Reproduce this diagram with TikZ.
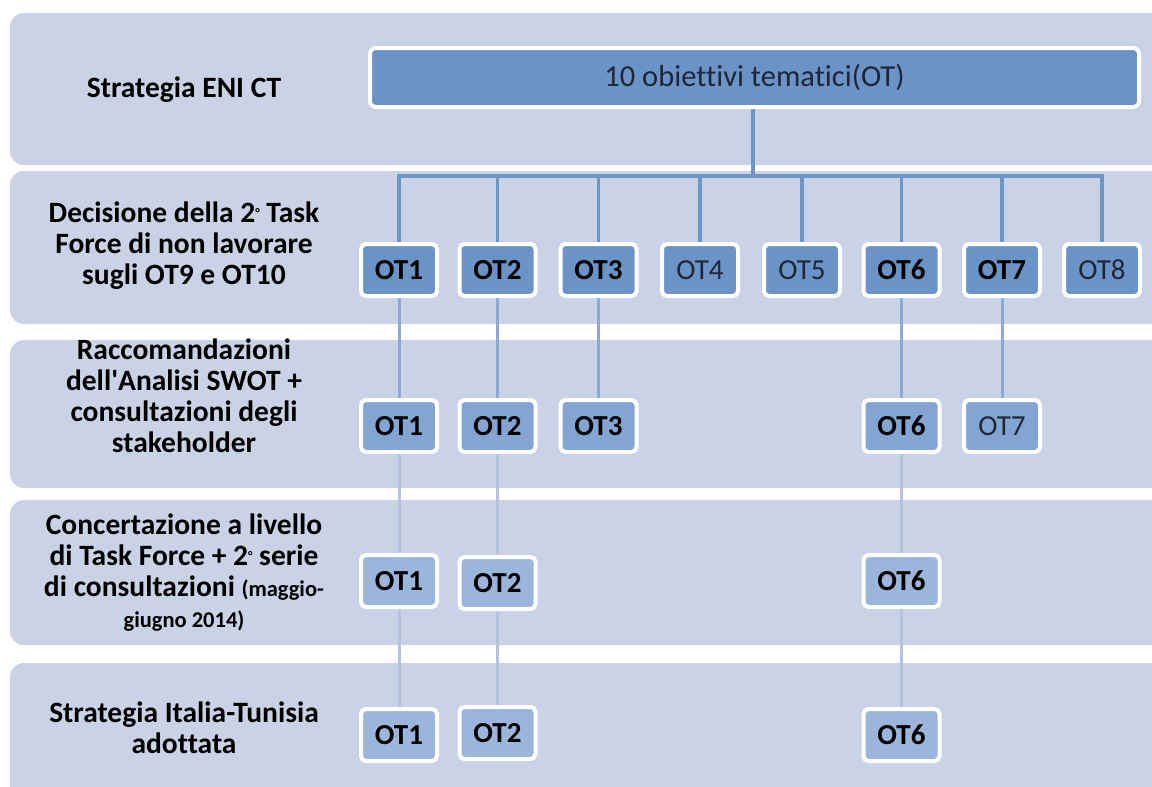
\documentclass[tikz,border=0pt]{standalone}
\usepackage{fontspec}
\setmainfont{Carlito}[Ligatures=NoCommon]
\pgfdeclarelayer{background}
\pgfsetlayers{background,main}
\definecolor{bandc}{HTML}{C9D3E5}
\definecolor{boxA}{HTML}{6B93C6}
\definecolor{boxB}{HTML}{84A4D2}
\definecolor{boxC}{HTML}{9CB5DB}
\definecolor{lineA}{HTML}{6E95C8}
\definecolor{lineB}{HTML}{8DA8D2}
\definecolor{lineC}{HTML}{B4C3DE}
\definecolor{regtext}{HTML}{1E2638}
\newcommand{\degsym}{{\fontsize{13}{13}\selectfont\raisebox{5pt}{°}}}
\begin{document}
\begin{tikzpicture}[x=1pt,y=-1pt,
  band/.style={fill=bandc, rounded corners=14pt},
  otbox/.style={draw=white, line width=4pt, rounded corners=5pt,
    minimum width=76pt, minimum height=52pt, inner sep=0pt},
  bt/.style={font=\fontsize{29}{29}\selectfont\bfseries, text=black},
  rt/.style={font=\fontsize{29}{29}\selectfont, text=regtext},
  otA/.style={otbox, fill=boxA},
  otB/.style={otbox, fill=boxB},
  otC/.style={otbox, fill=boxC},
  lab/.style={font=\fontsize{29.5}{31}\selectfont\bfseries, align=center, text=black},
  connA/.style={draw=lineA, line width=3.6pt},
  connB/.style={draw=lineB, line width=3pt},
  connC/.style={draw=lineC, line width=3pt}]
\useasboundingbox (0,0) rectangle (1152,787);
\clip (0,0) rectangle (1152,787);

% labels
\node[lab] (l1) at (184,90) {Strategia ENI CT};
\node[lab] (l2) at (184,246) {Decisione della 2\degsym{} Task\\Force di non lavorare\\sugli OT9 e OT10};
\node[lab] (l3) at (184,396) {Raccomandazioni\\dell\textquotesingle Analisi SWOT +\\consultazioni degli\\stakeholder};
\node[lab] (l4) at (184,573) {Concertazione a livello\\di Task Force + 2\degsym{} serie\\di consultazioni {\fontsize{22.5}{31}\selectfont(maggio-}\\{\fontsize{22.5}{31}\selectfont giugno 2014)}};
\node[lab] (l5) at (184,728) {Strategia Italia-Tunisia\\adottata};

% top box
\node[draw=white, line width=4pt, rounded corners=6pt, fill=boxA,
  minimum width=769pt, minimum height=59pt, inner sep=0pt,
  font=\fontsize{30.5}{30.5}\selectfont, text=regtext] (top) at (754.5,77.5) {10 obiettivi tematici(OT)};

% row 2
\node[otA,bt] (r2a) at (399,270) {OT1};
\node[otA,bt] (r2b) at (497.5,270) {OT2};
\node[otA,bt] (r2c) at (598.5,270) {OT3};
\node[otA,rt] (r2d) at (700,270) {OT4};
\node[otA,rt] (r2e) at (802,270) {OT5};
\node[otA,bt] (r2f) at (901.5,270) {OT6};
\node[otA,bt] (r2g) at (1002,270) {OT7};
\node[otA,rt] (r2h) at (1102,270) {OT8};

% row 3
\node[otB,bt] (r3a) at (399,426) {OT1};
\node[otB,bt] (r3b) at (497.5,426) {OT2};
\node[otB,bt] (r3c) at (598.5,426) {OT3};
\node[otB,bt] (r3f) at (901.5,426) {OT6};
\node[otB,rt] (r3g) at (1002,426) {OT7};

% row 4
\node[otC,bt] (r4a) at (399,581) {OT1};
\node[otC,bt] (r4b) at (497.5,583) {OT2};
\node[otC,bt] (r4f) at (901.5,581) {OT6};

% row 5
\node[otC,bt] (r5a) at (399,735) {OT1};
\node[otC,bt] (r5b) at (497.5,733) {OT2};
\node[otC,bt] (r5f) at (901.5,735) {OT6};

\begin{pgfonlayer}{background}
\fill[white] (0,0) rectangle (1152,787);
\fill[band] (10,13) rectangle (1200,165);
\fill[band] (10,171) rectangle (1200,324);
\fill[band] (10,340) rectangle (1200,488);
\fill[band] (10,500) rectangle (1200,645);
\fill[band] (10,663) rectangle (1200,810);

\coordinate (bus) at (753,176);
\draw[connA, line width=4pt] (top.south -| bus) -- (bus);
\foreach \n in {a,b,c,d,e,f,g,h}
  \draw[connA] (bus) -| (r2\n.center);
\foreach \n in {a,b,c,f,g}
  \draw[connB] (r2\n.center) -- (r3\n.center);
\foreach \n in {a,b,f}
  \draw[connC] (r3\n.center) -- (r4\n.center);
\foreach \n in {a,b,f}
  \draw[connC] (r4\n.center) -- (r5\n.center);
\end{pgfonlayer}
\end{tikzpicture}
\end{document}
